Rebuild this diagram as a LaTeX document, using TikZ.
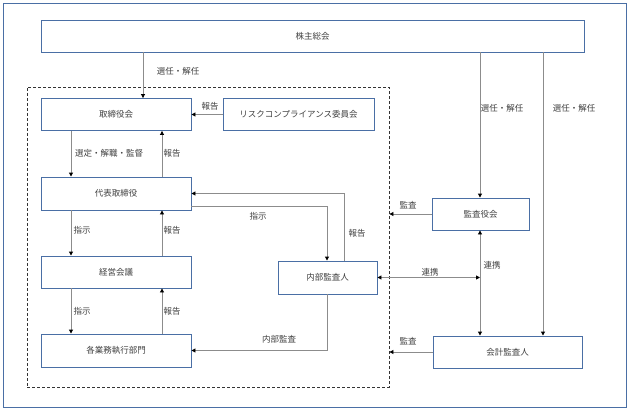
\documentclass[tikz,border=0pt]{standalone}
\usepackage{fontspec}
\newfontfamily\jpfont{Noto Sans CJK JP}
\usetikzlibrary{arrows.meta}
\definecolor{boxblue}{HTML}{4A6FA5}
\definecolor{linegray}{HTML}{8C8C8C}
\definecolor{txtgray}{HTML}{404040}
\tikzset{
  jp/.style={font=\jpfont\fontsize{8.5}{10}\selectfont, text=txtgray},
  unit/.style={jp, draw=boxblue, line width=0.9pt, fill=white, inner sep=0pt},
  lbl/.style={jp, inner sep=0pt},
  tip/.tip={Triangle[length=4pt,width=4pt,color=black]},
  arr/.style={draw=linegray, line width=0.9pt, -tip},
  dbl/.style={draw=linegray, line width=0.9pt, tip-tip},
}
\begin{document}
\begin{tikzpicture}[x=1pt,y=-1pt]
\path[use as bounding box] (0,0) rectangle (630,412);
% outer frame
\node[draw=boxblue, line width=0.8pt, minimum width=623pt, minimum height=404pt, inner sep=0pt] (frame) at (314.5,205) {};
% dashed group
\node[draw=black!80, line width=0.9pt, dash pattern=on 3pt off 2pt, minimum width=362pt, minimum height=300pt, inner sep=0pt] (grp) at (208,237) {};
% boxes
\node[unit, minimum width=543pt, minimum height=32pt] (kabu) at (312.5,36) {株主総会};
\node[unit, minimum width=150pt, minimum height=32pt] (tori) at (116,114.5) {取締役会};
\node[unit, minimum width=151pt, minimum height=32pt] (risk) at (298.5,114.5) {リスクコンプライアンス委員会};
\node[unit, minimum width=150pt, minimum height=33pt] (daihyo) at (116,193.5) {代表取締役};
\node[unit, minimum width=150pt, minimum height=32pt] (keiei) at (116,272) {経営会議};
\node[unit, minimum width=150pt, minimum height=33pt] (kakugyo) at (116,350.5) {各業務執行部門};
\node[unit, minimum width=99pt, minimum height=33pt] (naibu) at (327.5,277.5) {内部監査人};
\node[unit, minimum width=97pt, minimum height=32pt] (kansa) at (480.5,214) {監査役会};
\node[unit, minimum width=149pt, minimum height=32pt] (kaikei) at (507.5,352) {会計監査人};
% helper coordinates
\coordinate (xA) at (143,0);
\coordinate (xL) at (71,0);
\coordinate (xR) at (162,0);
\coordinate (xN) at (327,0);
\coordinate (xM) at (344,0);
\coordinate (xK) at (480,0);
\coordinate (xC) at (543,0);
\coordinate (yS) at (0,206);
% connectors
\draw[arr] (kabu.south -| xA) -- (tori.north -| xA);
\draw[arr] (risk.west) -- (tori.east);
\draw[arr] (tori.south -| xL) -- (daihyo.north -| xL);
\draw[arr] (daihyo.north -| xR) -- (tori.south -| xR);
\draw[arr] (daihyo.south -| xL) -- (keiei.north -| xL);
\draw[arr] (keiei.north -| xR) -- (daihyo.south -| xR);
\draw[arr] (keiei.south -| xL) -- (kakugyo.north -| xL);
\draw[arr] (kakugyo.north -| xR) -- (keiei.south -| xR);
\draw[arr] (daihyo.east |- yS) -| (naibu.north -| xN);
\draw[arr] (naibu.north -| xM) |- (daihyo.east);
\draw[arr] (naibu.south -| xN) |- (kakugyo.east);
\draw[dbl] (naibu.east) -- (naibu.east -| xK);
\draw[dbl] (kansa.south -| xK) -- (kaikei.north -| xK);
\draw[arr] (kabu.south -| xK) -- (kansa.north -| xK);
\draw[arr] (kabu.south -| xC) -- (kaikei.north -| xC);
\draw[arr] (kansa.west) -- (kansa.west -| grp.east);
\draw[arr] (kaikei.west) -- (kaikei.west -| grp.east);
% labels
\node[lbl] (l1) at (178,71) {選任・解任};
\node[lbl] (l2) at (210,106) {報告};
\node[lbl] (l3) at (109,153) {選定・解職・監督};
\node[lbl] (l4) at (172,153) {報告};
\node[lbl] (l5) at (82,230) {指示};
\node[lbl] (l6) at (172,230) {報告};
\node[lbl] (l7) at (82,311) {指示};
\node[lbl] (l8) at (172,311) {報告};
\node[lbl] (l9) at (258,216) {指示};
\node[lbl] (l10) at (357,233) {報告};
\node[lbl] (l11) at (279,339) {内部監査};
\node[lbl] (l12) at (408,205) {監査};
\node[lbl] (l13) at (430,272) {連携};
\node[lbl] (l14) at (492,265) {連携};
\node[lbl] (l15) at (408,341) {監査};
\node[lbl] (l16) at (502,108) {選任・解任};
\node[lbl] (l17) at (574,108) {選任・解任};
\end{tikzpicture}
\end{document}
